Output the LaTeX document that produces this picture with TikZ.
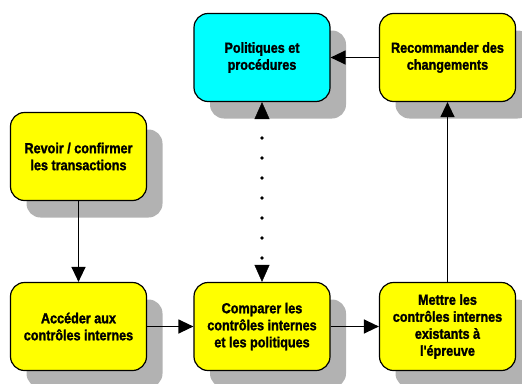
\documentclass[tikz,border=0pt]{standalone}
\usepackage{fontspec}
\setmainfont{Liberation Sans}[FakeStretch=0.87,FakeBold=1.6,Ligatures=TeXOff]
\usetikzlibrary{arrows.meta,shadows}
\definecolor{shadowc}{RGB}{178,178,178}
\definecolor{boxyellow}{RGB}{255,255,0}
\definecolor{boxcyan}{RGB}{0,255,255}
\begin{document}
\begin{tikzpicture}[x=1pt,y=-1pt,
  box/.style={draw=black, line width=1.2pt, rounded corners=14pt,
    minimum width=136pt, minimum height=88pt, inner sep=2pt, align=center,
    font=\bfseries\fontsize{14.5}{17}\selectfont, fill=boxyellow,
    drop shadow={shadow xshift=16pt, shadow yshift=-17pt, fill=shadowc, opacity=1}},
  conn/.style={line width=1.3pt, -{Triangle[width=14pt,length=15pt]}},
  dotconn/.style={line width=3.6pt, line cap=round, dash pattern=on 0pt off 20pt, dash phase=1pt,
    {Triangle[width=15pt,length=17pt,line width=0.5pt]}-{Triangle[width=15pt,length=17pt,line width=0.5pt]}}]
\useasboundingbox (0,0) rectangle (522,383);
\node[box, fill=boxcyan] (pol) at (262,57.5) {Politiques et\\procédures};
\node[box] (rec) at (447.5,57.5) {Recommander des\\changements};
\node[box] (rev) at (78.5,156.5) {Revoir / confirmer\\les transactions};
\node[box] (acc) at (78.5,326.5) {Accéder aux\\contrôles internes};
\node[box] (cmp) at (262,326.5) {Comparer les\\contrôles internes\\et les politiques};
\node[box] (met) at (447.5,326.5) {Mettre les\\contrôles internes\\existants à\\l'épreuve};
\draw[conn] (rev) -- (acc);
\draw[conn] (acc) -- (cmp);
\draw[conn] (cmp) -- (met);
\draw[conn] (met) -- (rec);
\draw[conn] (rec) -- (pol);
\draw[dotconn] (pol) -- (cmp);
\end{tikzpicture}
\end{document}
